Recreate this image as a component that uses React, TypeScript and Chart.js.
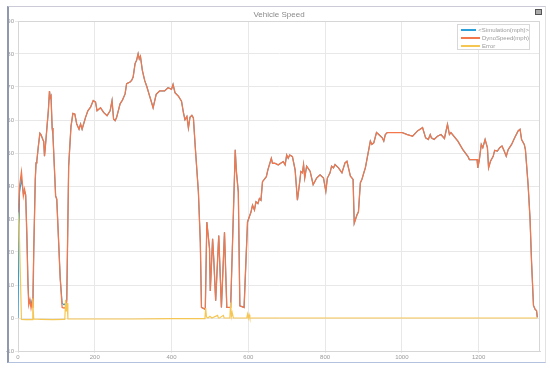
import React, { useEffect, useRef } from "react";
import { Chart, registerables } from "chart.js";

Chart.register(...registerables);

const chartTitle = "Vehicle Speed";
const seriesLabels = ["<Simulation(mph)>", "DynoSpeed(mph)", "Error"];
const seriesColors = ["#2a9fd8", "#f3774a", "#f6c652"];

const xTicks = [0, 200, 400, 600, 800, 1000, 1200];
const yTicks = [-10, 0, 10, 20, 30, 40, 50, 60, 70, 80, 90];

const time = [
  0, 4, 9, 12, 14, 17, 20, 23, 26, 28,
  31, 34, 37, 39, 41, 45, 47, 49, 53, 57,
  60, 65, 67, 69, 71, 76, 79, 82, 84, 86,
  89, 91, 95, 98, 101, 104, 110, 115, 120, 124,
  127, 132, 135, 138, 143, 148, 153, 159, 163, 167,
  176, 182, 189, 196, 202, 206, 215, 223, 232, 240,
  245, 249, 253, 257, 266, 272, 279, 283, 292, 296,
  300, 305, 309, 313, 316, 319, 324, 330, 336, 341,
  347, 352, 360, 369, 382, 391, 400, 404, 409, 418,
  426, 431, 435, 440, 444, 448, 453, 457, 462, 470,
  475, 478, 488, 492, 499, 501, 507, 510, 515, 523,
  530, 538, 544, 554, 566, 569, 574, 578, 589, 598,
  607, 611, 616, 620, 625, 629, 633, 637, 647, 651,
  660, 663, 669, 678, 691, 696, 700, 704, 708, 715,
  722, 728, 734, 737, 741, 744, 747, 752, 761, 769,
  778, 787, 796, 802, 806, 813, 817, 822, 826, 835,
  844, 852, 857, 866, 873, 876, 883, 887, 892, 896,
  901, 905, 909, 918, 922, 927, 934, 940, 949, 953,
  957, 962, 979, 1001, 1014, 1028, 1041, 1054, 1062, 1069,
  1074, 1077, 1084, 1093, 1102, 1111, 1119, 1124, 1128, 1146,
  1159, 1172, 1176, 1196, 1198, 1202, 1207, 1211, 1217, 1223,
  1226, 1231, 1238, 1242, 1249, 1255, 1261, 1266, 1272, 1277,
  1286, 1294, 1303, 1308, 1312, 1319, 1322, 1329, 1334, 1338,
  1343, 1347, 1351, 1353,
];

const dynoSpeed = [
  30, 40, 44.3, 40, 37, 39, 37, 25, 10, 4,
  5.5, 3, 5, 3, 20, 42, 47, 47.5, 52, 56,
  55.5, 54, 53.5, 49, 51.5, 58.6, 62.7, 68.8, 66.8, 67.3,
  57.6, 55.6, 45, 37, 36, 28, 12, 3.2, 3, 3.2,
  5, 46, 52, 58, 62, 61.8, 58.8, 57.2, 58.8, 57.2,
  60.8, 62.8, 63.9, 65.9, 65.4, 62.8, 63.7, 62.3, 61.3, 62.8,
  65.9, 60.3, 59.8, 60.8, 64.9, 66, 67.9, 71, 71.5, 72,
  73, 77.1, 78.1, 80.1, 78.5, 79.3, 75, 72, 70, 68,
  65.7, 63.7, 67.8, 68.8, 68.8, 69.8, 69.3, 70.8, 68.3, 67.2,
  65.7, 62.2, 60.1, 61.1, 57.6, 60.8, 61.4, 60.6, 51.5, 38.2,
  23, 3.2, 2.6, 29.1, 21, 8.2, 24, 17.9, 5.2, 25,
  3.2, 26, 3.2, 3.2, 51, 44.4, 38.2, 3.7, 3.2, 29.1,
  32.1, 34.2, 32.7, 35.2, 34.7, 36.2, 35.7, 41.3, 42.8, 44.9,
  48.4, 46.9, 46.9, 46.4, 47.4, 46.4, 49.4, 48.4, 49.4, 48.9,
  44.9, 35.7, 41.3, 44.4, 44, 46.5, 42.4, 46, 44.5, 40.4,
  42.4, 43.4, 42.4, 38.4, 42.4, 44, 46, 45.5, 46.5, 45.5,
  44, 47, 47.5, 43, 42, 28.7, 31.2, 32.2, 41, 42,
  44, 45.5, 48, 53.6, 52.6, 53.1, 56.2, 55.6, 54.6, 53.6,
  55.6, 56.2, 56.2, 56.2, 55.6, 55.1, 56.7, 57.7, 54.6, 54.1,
  55.6, 54.6, 54.1, 55.1, 55.6, 54.4, 58.7, 55.6, 56.2, 53.6,
  51, 49, 48, 48, 45.5, 48, 52.6, 51.6, 54.1, 51.6,
  45.5, 47.5, 49, 50.8, 50.6, 51.6, 52.1, 50.8, 49, 51,
  52.6, 54.6, 56.7, 57.2, 54.1, 52.6, 51, 40.4, 30.2, 17,
  3.8, 2.7, 2.2, 0.2,
];

const simSpeed = [
  0, 38, 42, 39.5, 37.5, 38.5, 37.5, 26, 11, 5,
  5.5, 4, 5.5, 8, 20, 42, 47, 47.5, 52, 56,
  55.5, 54, 53.5, 49, 51.5, 58.6, 62.7, 68.8, 66.8, 67.3,
  57.6, 55.6, 45, 37, 36, 28, 12, 4.5, 4, 4.5,
  5.5, 46, 52, 58, 62, 61.8, 58.8, 57.2, 58.8, 57.2,
  60.8, 62.8, 63.9, 65.9, 65.4, 62.8, 63.7, 62.3, 61.3, 62.8,
  65.9, 60.3, 59.8, 60.8, 64.9, 66, 67.9, 71, 71.5, 72,
  73, 77.1, 78.1, 80.1, 78.5, 79.3, 75, 72, 70, 68,
  65.7, 63.7, 67.8, 68.8, 68.8, 69.8, 69.3, 70.8, 68.3, 67.2,
  65.7, 62.2, 60.1, 61.1, 57.6, 60.8, 61.4, 60.6, 51.5, 38.2,
  23, 3.2, 2.6, 29.1, 21, 8.2, 24, 17.9, 5.2, 25,
  3.2, 26, 3.2, 3.2, 51, 44.4, 38.2, 3.7, 3.2, 29.1,
  32.1, 34.2, 32.7, 35.2, 34.7, 36.2, 35.7, 41.3, 42.8, 44.9,
  48.4, 46.9, 46.9, 46.4, 47.4, 46.4, 49.4, 48.4, 49.4, 48.9,
  44.9, 35.7, 41.3, 44.4, 44, 46.5, 42.4, 46, 44.5, 40.4,
  42.4, 43.4, 42.4, 38.4, 42.4, 44, 46, 45.5, 46.5, 45.5,
  44, 47, 47.5, 43, 42, 28.7, 31.2, 32.2, 41, 42,
  44, 45.5, 48, 53.6, 52.6, 53.1, 56.2, 55.6, 54.6, 53.6,
  55.6, 56.2, 56.2, 56.2, 55.6, 55.1, 56.7, 57.7, 54.6, 54.1,
  55.6, 54.6, 54.1, 55.1, 55.6, 54.4, 58.7, 55.6, 56.2, 53.6,
  51, 49, 48, 48, 45.5, 48, 52.6, 51.6, 54.1, 51.6,
  45.5, 47.5, 49, 50.8, 50.6, 51.6, 52.1, 50.8, 49, 51,
  52.6, 54.6, 56.7, 57.2, 54.1, 52.6, 51, 40.4, 30.2, 17,
  3.8, 2.7, 2.2, 0.2,
];

const errorTime = [
  0, 3, 9, 20, 35, 37, 38, 39, 41, 60,
  90, 120, 122, 124, 126, 128, 130, 200, 300, 400,
  487, 489, 491, 495, 500, 505, 520, 522, 525, 535,
  537, 540, 552, 554, 556, 558, 561, 596, 598, 600,
  602, 604, 700, 900, 1100, 1353,
];

const errorValue = [
  32, 28, -0.4, -0.5, -0.5, -0.5, 6, 5, -0.3, -0.4,
  -0.5, -0.4, -0.3, 5.5, 2, 4.5, -0.3, -0.3, -0.3, -0.2,
  -0.2, 3, 0.3, 0, 0.5, 0, 0.8, 0, 0, 0.8,
  0, 0, 0, 4.7, 0.5, 1.6, 0, 0, 1.2, 0,
  1, 0, 0, 0, 0, 0,
];

const boxPlugin = {
  id: "plotBox",
  beforeDatasetsDraw(chart: any) {
    const { ctx, chartArea: a } = chart;
    ctx.save();
    ctx.strokeStyle = "#d6d6d6";
    ctx.lineWidth = 1;
    ctx.strokeRect(a.left + 0.5, a.top + 0.5, a.right - a.left - 1, a.bottom - a.top);
    ctx.restore();
  },
};

export default function App() {
  const canvasRef = useRef<HTMLCanvasElement | null>(null);

  useEffect(() => {
    if (!canvasRef.current) return;
    const tickFont = { family: "'Liberation Sans', Arial, sans-serif", size: 6 };
    const chart = new Chart(canvasRef.current, {
      type: "line",
      data: {
        datasets: [
          {
            label: seriesLabels[0],
            data: time.map((t, i) => ({ x: t, y: simSpeed[i] })),
            borderColor: seriesColors[0],
            borderWidth: 1.1,
            pointRadius: 0,
            order: 2,
          },
          {
            label: seriesLabels[1],
            data: time.map((t, i) => ({ x: t, y: dynoSpeed[i] })),
            borderColor: seriesColors[1],
            borderWidth: 1.3,
            pointRadius: 0,
            order: 1,
          },
          {
            label: seriesLabels[2],
            data: errorTime.map((t, i) => ({ x: t, y: errorValue[i] })),
            borderColor: seriesColors[2],
            borderWidth: 1.2,
            pointRadius: 0,
            order: 0,
          },
        ],
      },
      options: {
        responsive: false,
        animation: false,
        devicePixelRatio: 1,
        layout: { padding: { left: 6, right: 10, top: 21, bottom: 7 } },
        plugins: {
          legend: { display: false },
          title: { display: false },
          tooltip: { enabled: false },
        },
        scales: {
          x: {
            type: "linear",
            min: 0,
            max: 1360,
            afterBuildTicks: (scale: any) => {
              scale.ticks = xTicks.map((v) => ({ value: v }));
            },
            afterFit: (scale: any) => {
              scale.height = 12;
            },
            ticks: { font: tickFont, color: "#9a9a9a", padding: 1, maxRotation: 0, callback: (v: any) => String(v) },
            grid: { color: "#e8e8e8", tickLength: 2 },
            border: { color: "#d6d6d6" },
          },
          y: {
            type: "linear",
            min: -10,
            max: 90,
            afterBuildTicks: (scale: any) => {
              scale.ticks = yTicks.map((v) => ({ value: v }));
            },
            afterFit: (scale: any) => {
              scale.width = 12;
            },
            ticks: { font: tickFont, color: "#9a9a9a", padding: 1, callback: (v: any) => String(v) },
            grid: { color: "#e8e8e8", tickLength: 3 },
            border: { color: "#d6d6d6" },
          },
        },
      },
      plugins: [boxPlugin],
    } as any);
    return () => chart.destroy();
  }, []);

  const legendText = { fontFamily: "'Liberation Sans', Arial, sans-serif", fontSize: 6, color: "#9a9a9a", lineHeight: "8px" };

  return (
    <div style={{ position: "absolute", left: 0, top: 0, width: 550, height: 370, background: "#fff" }}>
      <canvas ref={canvasRef} width={550} height={370} style={{ position: "absolute", left: 0, top: 0, width: 550, height: 370 }} />
      <div
        style={{
          position: "absolute",
          left: 7,
          top: 6,
          width: 536,
          height: 355,
          borderLeft: "2px solid #8f98ac",
          borderTop: "1px solid #cbcbd8",
          borderBottom: "1px solid #b3c2de",
          borderRight: "1px solid #e2e2e2",
          pointerEvents: "none",
        }}
      />
      <div
        style={{
          position: "absolute",
          left: 18,
          top: 10,
          width: 522,
          textAlign: "center",
          fontFamily: "'Liberation Sans', Arial, sans-serif",
          fontSize: 8,
          color: "#8a8a8a",
          lineHeight: "10px",
        }}
      >
        {chartTitle}
      </div>
      <div style={{ position: "absolute", left: 535, top: 9, width: 5, height: 4, border: "1px solid #555", background: "#aaa" }} />
      <div
        style={{
          position: "absolute",
          left: 457,
          top: 24,
          width: 73,
          height: 26,
          border: "1px solid #d8d8d8",
          background: "#fff",
          padding: "1px 0 0 3px",
          boxSizing: "border-box",
        }}
      >
        {seriesLabels.map((label, i) => (
          <div key={label} style={{ display: "flex", alignItems: "center", height: 8 }}>
            <div style={{ width: 19, height: 1.5, background: seriesColors[i], marginRight: 2 }} />
            <span style={legendText}>{label}</span>
          </div>
        ))}
      </div>
    </div>
  );
}
